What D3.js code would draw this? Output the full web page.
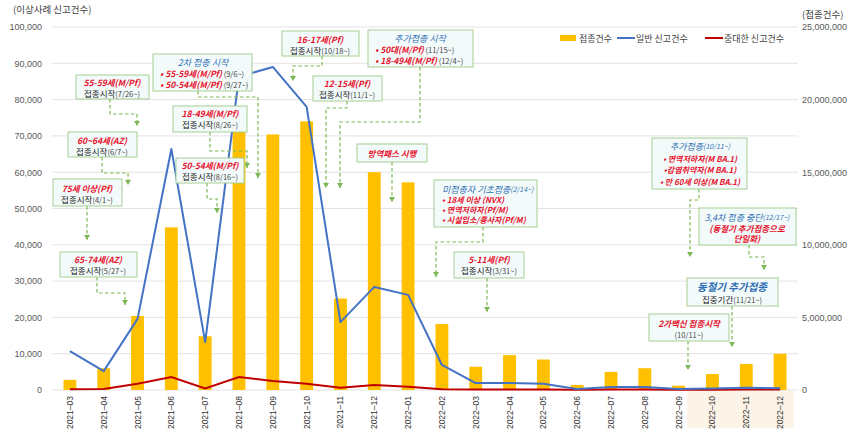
<!DOCTYPE html>
<html>
<head>
<meta charset="utf-8">
<script src="https://cdn.jsdelivr.net/npm/d3@7/dist/d3.min.js"></script>
<style>
  body { margin: 0; background: #fff; }
  svg { font-family: "Noto Sans CJK KR", "Noto Sans", sans-serif; }
  .tick text { fill: #595959; font-size: 9px; }
  .r { fill: #e8112d; font-weight: bold; font-style: italic; font-size: 8.5px; }
  .rs { fill: #e8112d; font-weight: bold; font-style: italic; font-size: 8px; }
  .b { fill: #2f6eb5; font-style: italic; font-size: 9px; }
  .bb { fill: #2f6eb5; font-style: italic; font-weight: bold; font-size: 10.5px; }
  .bs { fill: #2f6eb5; font-style: italic; font-size: 7px; }
  .k { fill: #222; font-size: 8.5px; }
  .d { fill: #444; font-size: 7.5px; }
</style>
</head>
<body>
<div id="main"></div>
<script>
const ctx = {
    w: 849,
    h: 435,
    left: 53,
    right: 797,
    top: 27,
    bottom: 390,
};

// data
const months = ["2021-03","2021-04","2021-05","2021-06","2021-07","2021-08","2021-09","2021-10",
                "2021-11","2021-12","2022-01","2022-02","2022-03","2022-04","2022-05","2022-06",
                "2022-07","2022-08","2022-09","2022-10","2022-11","2022-12"];
const doses = [700000, 1500000, 5100000, 11200000, 3700000, 17800000, 17600000, 18500000,
               6300000, 15000000, 14300000, 4550000, 1600000, 2400000, 2100000, 350000,
               1250000, 1500000, 300000, 1100000, 1800000, 2500000];
const generalReports = [10700, 5200, 19600, 66400, 13200, 86300, 89000, 78000,
                        18700, 28400, 26200, 6900, 1900, 1900, 1700, 300,
                        800, 800, 300, 400, 600, 500];
const seriousReports = [200, 300, 1700, 3600, 400, 3600, 2500, 1700,
                        600, 1400, 900, 200, 150, 150, 150, 100,
                        150, 150, 100, 100, 150, 150];
const leftTicks = [0, 10000, 20000, 30000, 40000, 50000, 60000, 70000, 80000, 90000, 100000];
const rightTicks = [0, 5000000, 10000000, 15000000, 20000000, 25000000];
const shadedMonths = ["2022-10", "2022-12"];

// annotation callouts (layout only)
const notes = [
    {box: [76, 75, 73, 24], cx: 112, lines: [
        {y: 81.5, s: [["55-59세(M/Pf)", "r"]]},
        {y: 92.5, s: [["접종시작", "k"], ["(7/26~)", "d"]]}],
     path: [[110, 99], [110, 114], [137, 114], [137, 126]]},
    {box: [153, 54, 99, 37], cx: 203, lines: [
        {y: 62, s: [["2차 접종 시작", "b"]]},
        {y: 73, x: 160, s: [["• 55-59세(M/Pf)", "r"], [" (9/6~)", "d"]]},
        {y: 83.5, x: 160, s: [["• 50-54세(M/Pf)", "r"], [" (9/27~)", "d"]]}],
     path: [[198, 91], [198, 97], [258, 97], [258, 178]]},
    {box: [173, 106, 74, 26], cx: 210, lines: [
        {y: 112.5, s: [["18-49세(M/Pf)", "r"]]},
        {y: 124, s: [["접종시작", "k"], ["(8/26~)", "d"]]}],
     path: [[210, 132], [210, 151], [247, 151], [247, 168]]},
    {box: [176, 158, 68, 25], cx: 210, lines: [
        {y: 164.5, s: [["50-54세(M/Pf)", "r"]]},
        {y: 175.5, s: [["접종시작", "k"], ["(8/16~)", "d"]]}],
     path: [[207, 183], [207, 199], [217, 199], [217, 213]]},
    {box: [68, 132, 69, 25], cx: 102, lines: [
        {y: 139.5, s: [["60~64세(AZ)", "r"]]},
        {y: 150.5, s: [["접종시작", "k"], ["(6/7~)", "d"]]}],
     path: [[102, 157], [102, 173], [128, 173], [128, 185]]},
    {box: [53, 179, 69, 27], cx: 87, lines: [
        {y: 187.5, s: [["75세 이상(Pf)", "r"]]},
        {y: 198.5, s: [["접종시작", "k"], ["(4/1~)", "d"]]}],
     path: [[87, 206], [87, 240]]},
    {box: [60, 252, 77, 25], cx: 98, lines: [
        {y: 258.5, s: [["65-74세(AZ)", "r"]]},
        {y: 269.5, s: [["접종시작", "k"], ["(5/27~)", "d"]]}],
     path: [[97, 277], [97, 293], [125, 293], [125, 305]]},
    {box: [282, 31, 77, 25], cx: 320, lines: [
        {y: 38.5, s: [["16-17세(Pf)", "r"]]},
        {y: 49.5, s: [["접종시작", "k"], ["(10/18~)", "d"]]}],
     path: [[322, 56], [322, 66], [293, 66], [293, 81]]},
    {box: [368, 30, 105, 37], cx: 420, lines: [
        {y: 38, s: [["추가접종 시작", "b"]]},
        {y: 49, x: 375, s: [["• 50대(M/Pf)", "r"], [" (11/15~)", "d"]]},
        {y: 59.5, x: 375, s: [["• 18-49세(M/Pf)", "r"], [" (12/4~)", "d"]]}],
     path: [[420, 67], [420, 122], [340, 122], [340, 188]]},
    {box: [313, 76, 69, 25], cx: 347, lines: [
        {y: 82.5, s: [["12-15세(Pf)", "r"]]},
        {y: 94, s: [["접종시작", "k"], ["(11/1~)", "d"]]}],
     path: [[347, 101], [347, 108], [326, 108], [326, 188]]},
    {box: [357, 144, 70, 18], cx: 392, lines: [
        {y: 153, s: [["방역패스 시행", "r"]]}],
     path: [[392, 162], [392, 202]]},
    {box: [434, 180, 103, 47], cx: 485, lines: [
        {y: 188.5, x: 442, s: [["미접종자 기초접종", "b"], ["(2/14~)", "bs"]]},
        {y: 199, x: 442, s: [["• 18세 이상 (NVX)", "rs"]]},
        {y: 209, x: 442, s: [["• 면역저하자(Pf/M)", "rs"]]},
        {y: 219, x: 442, s: [["• 시설입소/종사자(Pf/M)", "rs"]]}],
     path: [[483, 227], [483, 242], [436, 242], [436, 277]]},
    {box: [454, 252, 70, 26], cx: 489, lines: [
        {y: 258.5, s: [["5-11세(Pf)", "r"]]},
        {y: 269.5, s: [["접종시작", "k"], ["(3/31~)", "d"]]}],
     path: [[487, 278], [487, 312]]},
    {box: [652, 138, 95, 51], cx: 700, lines: [
        {y: 146, s: [["추가접종", "b"], ["(10/11~)", "bs"]]},
        {y: 158, s: [["• 면역저하자(M BA.1)", "rs"]]},
        {y: 169, s: [["•감염취약자(M BA.1)", "rs"]]},
        {y: 180.5, s: [["• 만 60세 이상(M BA.1)", "rs"]]}],
     path: [[699, 189], [699, 200], [690, 200], [690, 257]]},
    {box: [699, 208, 97, 37], cx: 747, lines: [
        {y: 216.5, s: [["3,4차 접종 중단", "b"], ["(12/17~)", "bs"]]},
        {y: 227.5, s: [["(동절기 추가접종으로", "r"]]},
        {y: 238, s: [["단일화)", "r"]]}],
     path: [[749, 245], [749, 257], [764, 257], [764, 270]]},
    {box: [687, 278, 91, 28], cx: 732, lines: [
        {y: 285.5, s: [["동절기 추가접종", "bb"]]},
        {y: 298.5, s: [["집중기간", "k"], ["(11/21~)", "d"]]}],
     path: [[732, 306], [732, 347]]},
    {box: [649, 314, 80, 27], cx: 689, lines: [
        {y: 322.5, s: [["2가백신 접종시작", "r"]]},
        {y: 333.5, s: [["(10/11~)", "d"]]}],
     path: [[688, 341], [688, 370]]},
];

const BAR_COLOR = "#ffc000";
const BLUE = "#4472c4";
const RED = "#c00000";
const GREEN = "#7db756";

const x = d3.scaleBand().domain(months).range([ctx.left, ctx.right])
            .paddingInner(0.62).paddingOuter(0.31);
const yL = d3.scaleLinear().domain([0, 100000]).range([ctx.bottom, ctx.top]);
const yR = d3.scaleLinear().domain([0, 25000000]).range([ctx.bottom, ctx.top]);
const cx = (m) => x(m) + x.bandwidth() / 2;

const svg = d3.select("#main").append("svg")
              .attr("width", ctx.w).attr("height", ctx.h);

// shaded band under the last months
const step = x.step();
const shadeX0 = cx(shadedMonths[0]) - 0.75 * step;
svg.append("rect")
   .attr("x", shadeX0)
   .attr("y", ctx.bottom)
   .attr("width", cx(shadedMonths[1]) + 0.4 * step - shadeX0)
   .attr("height", 38)
   .attr("fill", "#fdf4e8");

// gridlines
svg.append("g")
   .selectAll("line")
   .data(leftTicks)
   .enter()
   .append("line")
   .attr("x1", ctx.left - 1).attr("x2", ctx.right + 1)
   .attr("y1", (d) => yL(d)).attr("y2", (d) => yL(d))
   .attr("stroke", "#e3e3e3").attr("stroke-width", 1);

// bars
svg.append("g")
   .selectAll("rect")
   .data(months)
   .enter()
   .append("rect")
   .attr("x", (d) => x(d))
   .attr("width", x.bandwidth())
   .attr("y", (d, i) => yR(doses[i]))
   .attr("height", (d, i) => ctx.bottom - yR(doses[i]))
   .attr("fill", BAR_COLOR);

// lines
const lineGen = (vals) => d3.line().x((d, i) => cx(months[i])).y((d) => yL(d))(vals);
svg.append("path").attr("d", lineGen(seriousReports))
   .attr("fill", "none").attr("stroke", RED).attr("stroke-width", 2);
svg.append("path").attr("d", lineGen(generalReports))
   .attr("fill", "none").attr("stroke", BLUE).attr("stroke-width", 2)
   .attr("stroke-linejoin", "round");

// axes
const fmt = d3.format(",");
svg.append("g")
   .attr("transform", `translate(${ctx.left - 1},0)`)
   .call(d3.axisLeft(yL).tickValues(leftTicks).tickSize(0).tickPadding(10).tickFormat(fmt))
   .call((g) => g.select(".domain").remove());
svg.append("g")
   .attr("transform", `translate(${ctx.right},0)`)
   .call(d3.axisRight(yR).tickValues(rightTicks).tickSize(0).tickPadding(5).tickFormat(fmt))
   .call((g) => g.select(".domain").remove());
svg.append("g")
   .attr("transform", `translate(0,${ctx.bottom})`)
   .call(d3.axisBottom(x).tickSize(0).tickFormat((d) => d.replace("-", "–")))
   .call((g) => g.select(".domain").remove())
   .selectAll("text")
   .attr("transform", "rotate(-90)")
   .attr("x", -6).attr("y", 0).attr("dy", "0.35em")
   .style("text-anchor", "end")
   .style("fill", "#333")
   .style("font-size", "8.5px");

// axis titles
svg.append("text").attr("x", 13).attr("y", 13)
   .style("font-size", "9.5px").style("fill", "#404040").text("(이상사례 신고건수)");
svg.append("text").attr("x", 802).attr("y", 18)
   .style("font-size", "9.5px").style("fill", "#404040").text("(접종건수)");

// legend
const legend = svg.append("g").style("font-size", "9px").style("fill", "#404040");
legend.append("rect").attr("x", 560).attr("y", 35).attr("width", 16).attr("height", 6).attr("fill", BAR_COLOR);
legend.append("text").attr("x", 579).attr("y", 38).attr("dominant-baseline", "central").text("접종건수");
legend.append("line").attr("x1", 617).attr("x2", 635).attr("y1", 38).attr("y2", 38)
      .attr("stroke", BLUE).attr("stroke-width", 2);
legend.append("text").attr("x", 636).attr("y", 38).attr("dominant-baseline", "central").text("일반 신고건수");
legend.append("line").attr("x1", 705).attr("x2", 723).attr("y1", 38).attr("y2", 38)
      .attr("stroke", RED).attr("stroke-width", 2);
legend.append("text").attr("x", 724).attr("y", 38).attr("dominant-baseline", "central").text("중대한 신고건수");

// callouts: connectors first, then boxes on top
const notesG = svg.append("g");
notes.forEach(function(n){
    const pts = n.path;
    notesG.append("path")
          .attr("d", d3.line()(pts))
          .attr("fill", "none")
          .attr("stroke", GREEN)
          .attr("stroke-width", 1.2)
          .attr("stroke-dasharray", "3.5,2.5");
    const end = pts[pts.length - 1];
    notesG.append("path")
          .attr("d", `M${end[0]-3},${end[1]-5}L${end[0]+3},${end[1]-5}L${end[0]},${end[1]}Z`)
          .attr("fill", GREEN);
});
notes.forEach(function(n){
    const [bx, by, bw, bh] = n.box;
    notesG.append("rect")
          .attr("x", bx).attr("y", by).attr("width", bw).attr("height", bh)
          .attr("fill", "#f3fbfa")
          .attr("stroke", "#a6cf94")
          .attr("stroke-width", 1);
    n.lines.forEach(function(l){
        const t = notesG.append("text")
                        .attr("x", l.x !== undefined ? l.x : n.cx)
                        .attr("y", l.y)
                        .attr("dominant-baseline", "central")
                        .attr("text-anchor", l.x !== undefined ? "start" : "middle");
        l.s.forEach(function(s){
            t.append("tspan").attr("class", s[1]).text(s[0]);
        });
    });
});
</script>
</body>
</html>
